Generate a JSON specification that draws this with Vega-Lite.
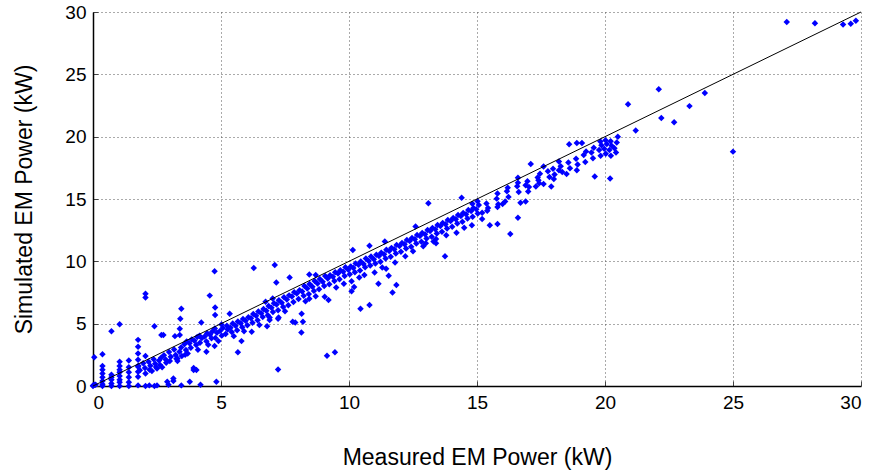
{
  "$schema": "https://vega.github.io/schema/vega-lite/v6.json",
  "autosize": {"type": "none"},
  "width": 768,
  "height": 374,
  "padding": {"left": 93, "top": 12, "right": 13, "bottom": 89},
  "background": "white",
  "config": {
    "view": {"stroke": null},
    "font": "Liberation Sans",
    "axis": {
      "domainColor": "#000000",
      "domainWidth": 1.5,
      "tickColor": "#444444",
      "tickSize": -5,
      "gridColor": "#555555",
      "gridDash": [1, 3],
      "gridWidth": 1,
      "labelFont": "Liberation Sans",
      "labelFontSize": 19,
      "labelColor": "#000000",
      "titleFont": "Liberation Sans",
      "titleFontSize": 23,
      "titleFontWeight": "normal",
      "titleColor": "#000000"
    }
  },
  "datasets": {
    "diag": [{"m": 0, "s": 0}, {"m": 30, "s": 30}]
  },
  "layer": [
    {
      "data": {"values": [
        {"m":0,"s":0},{"m":0,"s":0.05},{"m":0.05,"s":0.1},{"m":0.05,"s":2.3},{"m":0.1,"s":0.1},
        {"m":0.37,"s":0},{"m":0.37,"s":0.15},{"m":0.37,"s":0.4},{"m":0.37,"s":0.7},{"m":0.37,"s":1.0},{"m":0.37,"s":1.3},{"m":0.37,"s":1.6},{"m":0.37,"s":2.55},
        {"m":0.72,"s":0},{"m":0.72,"s":0.2},{"m":0.72,"s":0.5},{"m":0.72,"s":0.7},{"m":0.72,"s":0.9},{"m":0.72,"s":4.4},
        {"m":1.04,"s":0},{"m":1.04,"s":0.3},{"m":1.04,"s":0.5},{"m":1.04,"s":0.8},{"m":1.04,"s":1.1},{"m":1.04,"s":1.3},{"m":1.04,"s":1.6},{"m":1.04,"s":1.95},{"m":1.04,"s":4.95},
        {"m":1.4,"s":0},{"m":1.4,"s":0.3},{"m":1.4,"s":0.7},{"m":1.4,"s":1.1},{"m":1.4,"s":1.5},{"m":1.4,"s":2.05},
        {"m":1.76,"s":0.05},{"m":1.76,"s":0.75},{"m":1.76,"s":1.15},{"m":1.76,"s":1.55},{"m":1.76,"s":2.1},{"m":1.76,"s":2.6},{"m":1.76,"s":3.15},{"m":1.76,"s":3.7},
        {"m":2.05,"s":0},{"m":2.05,"s":1.0},{"m":2.05,"s":2.4},{"m":2.05,"s":7.1},{"m":2.05,"s":7.4},
        {"m":2.2,"s":0.05},{"m":2.4,"s":4.8},{"m":2.4,"s":0},{"m":2.5,"s":0.05},{"m":2.67,"s":4.1},{"m":2.9,"s":0.35},{"m":2.95,"s":0.1},
        {"m":3.14,"s":0.6},{"m":3.14,"s":0.4},{"m":3.39,"s":4.6},{"m":3.39,"s":4.1},{"m":3.41,"s":5.4},{"m":3.45,"s":6.2},{"m":3.45,"s":0.05},
        {"m":3.78,"s":0.35},{"m":3.93,"s":1.28},{"m":3.93,"s":1.45},{"m":4.04,"s":1.28},{"m":4.43,"s":2.75},{"m":4.82,"s":0.35},{"m":4.2,"s":0.1},
        {"m":4.77,"s":6.3},{"m":4.77,"s":5.7},{"m":4.23,"s":5.1},{"m":4.56,"s":7.25},{"m":4.75,"s":9.2},{"m":4.75,"s":3.2},
        {"m":2.3,"s":1.2},{"m":2.5,"s":1.4},{"m":2.7,"s":1.5},{"m":3.0,"s":2.0},{"m":3.3,"s":2.0},{"m":3.6,"s":2.5},{"m":2.75,"s":4.1},{"m":3.2,"s":4.0},
        {"m":5.34,"s":5.8},{"m":5.66,"s":2.7},{"m":5.8,"s":3.6},{"m":6.2,"s":4.35},{"m":6.8,"s":4.8},{"m":6.9,"s":5.5},{"m":7.25,"s":5.5},{"m":7.23,"s":5.4},
        {"m":7.8,"s":5.15},{"m":8.2,"s":5.15},{"m":8.14,"s":4.3},{"m":7.23,"s":1.33},{"m":9.14,"s":2.43},{"m":9.45,"s":2.7},{"m":7.9,"s":5.1},
        {"m":8.45,"s":7.0},{"m":9.05,"s":7.15},{"m":9.2,"s":6.9},{"m":8.15,"s":5.8},{"m":10.1,"s":7.6},{"m":10.2,"s":7.95},{"m":10.45,"s":6.2},{"m":10.8,"s":6.5},
        {"m":10.4,"s":8.7},{"m":11.15,"s":8.2},{"m":11.55,"s":8.85},{"m":11.85,"s":8.1},{"m":11.7,"s":7.5},{"m":11.45,"s":9.4},
        {"m":6.28,"s":9.46},{"m":7.1,"s":9.7},{"m":7.16,"s":8.3},{"m":7.68,"s":8.7},{"m":8.45,"s":8.95},{"m":8.7,"s":8.9},
        {"m":10.15,"s":10.9},{"m":10.8,"s":11.25},{"m":11.4,"s":11.6},{"m":12.6,"s":12.8},{"m":14.4,"s":15.1},{"m":13.1,"s":14.65},{"m":17.1,"s":17.8},{"m":17.6,"s":17.6},
        {"m":13.0,"s":11.45},{"m":13.4,"s":11.45},{"m":13.4,"s":11.8},{"m":13.75,"s":10.4},{"m":16.3,"s":12.2},{"m":15.5,"s":12.9},{"m":15.8,"s":13.0},
        {"m":16.6,"s":13.5},{"m":16.7,"s":14.7},{"m":16.9,"s":14.8},{"m":14.8,"s":12.9},{"m":15.2,"s":13.4},{"m":15.2,"s":13.9},{"m":15.4,"s":14.05},{"m":15.8,"s":14.35},
        {"m":16.1,"s":14.8},{"m":16.2,"s":15.9},{"m":15.8,"s":15.45},{"m":16.6,"s":16.3},{"m":16.6,"s":16.7},{"m":16.9,"s":16.1},{"m":17.3,"s":16.0},{"m":17.4,"s":16.5},
        {"m":17.9,"s":16.0},{"m":18.2,"s":17.3},{"m":18.2,"s":18.0},{"m":18.6,"s":19.4},{"m":18.9,"s":19.5},{"m":19.1,"s":19.5},
        {"m":19.6,"s":16.8},{"m":20.2,"s":16.65},{"m":20.5,"s":20.0},{"m":21.2,"s":20.5},{"m":20.9,"s":22.6},{"m":22.1,"s":23.8},{"m":23.9,"s":23.5},
        {"m":23.3,"s":22.45},{"m":22.2,"s":21.5},{"m":22.7,"s":21.15},{"m":25.0,"s":18.8},
        {"m":27.1,"s":29.2},{"m":28.2,"s":29.1},{"m":29.3,"s":29.0},{"m":29.6,"s":29.05},{"m":29.8,"s":29.3},
        {"m":9.5,"s":7.9},{"m":9.8,"s":8.2},{"m":10.1,"s":8.4},{"m":10.6,"s":8.9},{"m":11.0,"s":9.1},{"m":11.3,"s":9.5},{"m":11.8,"s":9.9},{"m":12.2,"s":10.4},
        {"m":12.5,"s":10.8},{"m":12.9,"s":11.2},{"m":13.3,"s":11.6},{"m":13.8,"s":12.1},{"m":14.2,"s":12.3},{"m":14.5,"s":12.7},{"m":8.3,"s":6.8},{"m":8.7,"s":7.2},
        {"m":7.5,"s":6.0},{"m":6.9,"s":5.3},{"m":6.5,"s":4.9},{"m":5.9,"s":4.4},{"m":5.5,"s":4.0},{"m":4.9,"s":3.6},{"m":4.5,"s":3.3},{"m":4.1,"s":2.9},
        {"m":3.7,"s":2.6},{"m":3.3,"s":2.2},{"m":16.0,"s":14.6},{"m":17.0,"s":15.6},{"m":17.6,"s":16.2},{"m":18.0,"s":16.6},{"m":18.5,"s":17.0},{"m":18.9,"s":17.3},
        {"m":1.83,"s":1.27},{"m":1.77,"s":1.62},{"m":2.03,"s":1.45},{"m":1.96,"s":1.83},{"m":2.24,"s":1.63},{"m":2.17,"s":1.94},{"m":2.21,"s":1.31},
        {"m":2.43,"s":1.78},{"m":2.37,"s":2.14},{"m":2.46,"s":1.52},{"m":2.58,"s":2.04},{"m":2.66,"s":2.27},{"m":2.62,"s":1.68},
        {"m":2.84,"s":2.13},{"m":2.77,"s":2.46},{"m":2.86,"s":1.87},{"m":3.04,"s":2.35},{"m":2.97,"s":2.72},{"m":3.23,"s":2.48},{"m":3.17,"s":2.93},{"m":3.26,"s":2.18},
        {"m":3.38,"s":2.74},{"m":3.44,"s":3.08},{"m":3.47,"s":2.41},{"m":3.63,"s":2.88},{"m":3.57,"s":3.34},{"m":3.66,"s":3.58},
        {"m":3.82,"s":3.06},{"m":3.77,"s":3.43},{"m":3.86,"s":3.74},{"m":4.03,"s":3.28},{"m":3.96,"s":3.62},{"m":4.07,"s":3.93},
        {"m":4.18,"s":3.47},{"m":4.25,"s":3.84},{"m":4.16,"s":4.03},{"m":4.43,"s":3.58},{"m":4.36,"s":3.97},{"m":4.46,"s":4.24},
        {"m":4.63,"s":3.83},{"m":4.57,"s":4.12},{"m":4.66,"s":4.38},{"m":4.78,"s":3.86},{"m":4.84,"s":4.28},{"m":4.76,"s":4.62},
        {"m":5.03,"s":4.04},{"m":4.96,"s":4.41},{"m":5.07,"s":4.66},{"m":5.02,"s":4.93},{"m":5.18,"s":4.17},{"m":5.26,"s":4.54},{"m":5.23,"s":4.83},
        {"m":5.42,"s":4.34},{"m":5.37,"s":4.68},{"m":5.46,"s":5.02},{"m":5.63,"s":4.47},{"m":5.57,"s":4.83},{"m":5.66,"s":5.17},
        {"m":5.83,"s":4.72},{"m":5.77,"s":5.04},{"m":5.86,"s":5.38},{"m":6.03,"s":4.87},{"m":5.96,"s":5.23},{"m":6.07,"s":5.52},
        {"m":6.23,"s":5.08},{"m":6.17,"s":5.43},{"m":6.26,"s":5.77},{"m":6.43,"s":5.27},{"m":6.37,"s":5.63},{"m":6.46,"s":5.98},
        {"m":6.63,"s":5.53},{"m":6.57,"s":5.84},{"m":6.66,"s":6.17},{"m":6.83,"s":5.68},{"m":6.77,"s":6.03},{"m":6.86,"s":6.42},{"m":6.74,"s":6.76},
        {"m":7.03,"s":5.93},{"m":6.97,"s":6.28},{"m":7.07,"s":6.63},{"m":7.02,"s":7.02},{"m":7.23,"s":6.07},{"m":7.17,"s":6.53},{"m":7.26,"s":6.88},
        {"m":7.43,"s":6.33},{"m":7.37,"s":6.68},{"m":7.46,"s":7.12},{"m":7.63,"s":6.47},{"m":7.57,"s":6.94},{"m":7.66,"s":7.27},
        {"m":7.83,"s":6.73},{"m":7.77,"s":7.18},{"m":7.86,"s":7.53},{"m":8.03,"s":6.97},{"m":7.96,"s":7.42},{"m":8.07,"s":7.68},
        {"m":8.23,"s":7.23},{"m":8.17,"s":7.58},{"m":8.26,"s":8.02},{"m":8.43,"s":7.37},{"m":8.37,"s":7.83},{"m":8.46,"s":8.18},
        {"m":8.63,"s":7.63},{"m":8.57,"s":7.97},{"m":8.66,"s":8.42},{"m":8.83,"s":7.76},{"m":8.77,"s":8.23},{"m":8.86,"s":8.58},
        {"m":9.03,"s":8.03},{"m":8.97,"s":8.37},{"m":9.07,"s":8.82},{"m":9.23,"s":8.17},{"m":9.17,"s":8.63},{"m":9.26,"s":8.88},
        {"m":9.43,"s":8.43},{"m":9.37,"s":8.77},{"m":9.46,"s":9.13},{"m":9.63,"s":8.57},{"m":9.57,"s":9.03},{"m":9.66,"s":9.28},
        {"m":9.83,"s":8.83},{"m":9.77,"s":9.17},{"m":9.86,"s":9.52},{"m":10.03,"s":8.97},{"m":9.97,"s":9.33},{"m":10.07,"s":9.58},
        {"m":10.23,"s":9.13},{"m":10.17,"s":9.47},{"m":10.26,"s":9.83},{"m":10.43,"s":9.27},{"m":10.37,"s":9.73},{"m":10.46,"s":9.98},
        {"m":10.63,"s":9.53},{"m":10.57,"s":9.78},{"m":10.66,"s":10.22},{"m":10.83,"s":9.67},{"m":10.77,"s":10.03},{"m":10.86,"s":10.38},
        {"m":11.03,"s":9.83},{"m":10.97,"s":10.17},{"m":11.07,"s":10.52},{"m":11.23,"s":9.97},{"m":11.17,"s":10.43},{"m":11.26,"s":10.68},
        {"m":11.43,"s":10.23},{"m":11.37,"s":10.57},{"m":11.46,"s":10.92},{"m":11.63,"s":10.37},{"m":11.57,"s":10.83},{"m":11.66,"s":11.08},
        {"m":11.83,"s":10.63},{"m":11.77,"s":10.97},{"m":11.86,"s":11.32},{"m":12.03,"s":10.77},{"m":11.97,"s":11.23},{"m":12.07,"s":11.48},
        {"m":12.23,"s":11.03},{"m":12.17,"s":11.37},{"m":12.26,"s":11.72},{"m":12.43,"s":11.17},{"m":12.37,"s":11.63},{"m":12.46,"s":11.88},
        {"m":12.63,"s":11.43},{"m":12.57,"s":11.77},{"m":12.66,"s":12.12},{"m":12.83,"s":11.57},{"m":12.77,"s":12.03},{"m":12.86,"s":12.28},
        {"m":13.03,"s":11.83},{"m":12.97,"s":12.17},{"m":13.07,"s":12.52},{"m":13.23,"s":11.97},{"m":13.17,"s":12.43},{"m":13.26,"s":12.68},
        {"m":13.43,"s":12.23},{"m":13.37,"s":12.57},{"m":13.46,"s":12.92},{"m":13.63,"s":12.37},{"m":13.57,"s":12.83},{"m":13.66,"s":13.08},
        {"m":13.83,"s":12.63},{"m":13.77,"s":12.97},{"m":13.86,"s":13.32},{"m":14.03,"s":12.77},{"m":13.97,"s":13.23},{"m":14.07,"s":13.48},
        {"m":14.23,"s":13.03},{"m":14.17,"s":13.37},{"m":14.26,"s":13.72},{"m":14.43,"s":13.17},{"m":14.37,"s":13.63},{"m":14.46,"s":13.88},
        {"m":14.63,"s":13.43},{"m":14.57,"s":13.77},{"m":14.66,"s":14.12},{"m":14.83,"s":13.57},{"m":14.77,"s":14.03},{"m":14.86,"s":14.28},{"m":14.82,"s":14.62},
        {"m":15.03,"s":13.83},{"m":14.97,"s":14.17},{"m":15.07,"s":14.52},{"m":15.02,"s":14.82},
        {"m":15.43,"s":14.27},{"m":15.37,"s":14.63},{"m":15.83,"s":14.57},{"m":15.77,"s":15.03},{"m":16.23,"s":15.17},{"m":16.17,"s":15.63},
        {"m":16.63,"s":15.57},{"m":16.57,"s":16.03},{"m":17.03,"s":15.97},{"m":16.97,"s":16.43},{"m":17.43,"s":16.27},{"m":17.37,"s":16.73},{"m":17.46,"s":17.02},
        {"m":17.83,"s":16.77},{"m":17.77,"s":17.23},{"m":18.03,"s":16.97},{"m":17.97,"s":17.43},{"m":18.33,"s":17.17},{"m":18.27,"s":17.63},
        {"m":18.63,"s":17.47},{"m":18.57,"s":17.93},{"m":18.93,"s":17.77},{"m":18.87,"s":18.23},{"m":19.23,"s":17.97},{"m":19.17,"s":18.53},{"m":19.26,"s":18.82},
        {"m":19.53,"s":18.27},{"m":19.47,"s":18.73},{"m":19.56,"s":19.12},{"m":19.83,"s":18.47},{"m":19.77,"s":18.93},{"m":19.86,"s":19.32},{"m":19.82,"s":19.62},
        {"m":20.03,"s":18.63},{"m":19.97,"s":19.03},{"m":20.07,"s":19.42},{"m":20.02,"s":19.72},{"m":20.23,"s":18.47},{"m":20.17,"s":18.93},{"m":20.26,"s":19.27},{"m":20.22,"s":19.63},
        {"m":20.43,"s":18.73},{"m":20.37,"s":19.07},{"m":20.46,"s":19.53}
      ]},
      "mark": {"type": "point", "shape": "diamond", "filled": true, "size": 42, "color": "#0000ff", "opacity": 1},
      "encoding": {
        "x": {"field": "m", "type": "quantitative", "scale": {"domain": [0, 30], "nice": false},
          "axis": {"title": "Measured EM Power (kW)", "values": [0, 5, 10, 15, 20, 25, 30], "labelPadding": 12, "titlePadding": 34}},
        "y": {"field": "s", "type": "quantitative", "scale": {"domain": [0, 30], "nice": false},
          "axis": {"title": "Simulated EM Power (kW)", "values": [0, 5, 10, 15, 20, 25, 30], "labelPadding": 12, "titlePadding": 28}}
      }
    },
    {
      "data": {"name": "diag"},
      "mark": {"type": "line", "color": "#000000", "strokeWidth": 1},
      "encoding": {
        "x": {"field": "m", "type": "quantitative"},
        "y": {"field": "s", "type": "quantitative"}
      }
    }
  ]
}
